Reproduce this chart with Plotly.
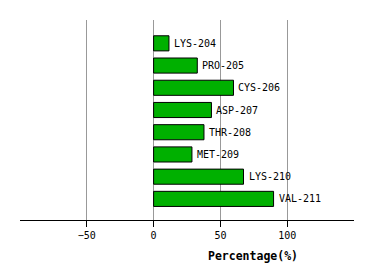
import plotly.graph_objects as go

residues = ["LYS-204", "PRO-205", "CYS-206", "ASP-207", "THR-208", "MET-209", "LYS-210", "VAL-211"]
percentages = [11.5, 32.7, 59.8, 43.3, 37.7, 28.7, 67.3, 89.8]
tick_values = [-50, 0, 50, 100]
tick_labels = ["\u221250", "0", "50", "100"]

positions = list(range(len(residues)))
FONT = "DejaVu Sans Mono"

fig = go.Figure()
fig.add_trace(go.Bar(
    x=percentages,
    y=positions,
    orientation="h",
    width=0.68,
    marker=dict(color="#00b000", line=dict(color="black", width=1)),
    hoverinfo="skip",
))

for p, v, name in zip(positions, percentages, residues):
    fig.add_annotation(
        x=v, y=p, text=name, showarrow=False,
        xanchor="left", yanchor="middle", xshift=3,
        font=dict(family=FONT, size=10, color="black"),
    )

fig.add_annotation(
    x=0.698, y=-0.135, xref="paper", yref="paper",
    text="<b>Percentage(%)</b>", showarrow=False,
    xanchor="center", yanchor="top",
    font=dict(family=FONT, size=11.5, color="black"),
)

fig.update_layout(
    width=374, height=280,
    margin=dict(l=20, r=20, t=20, b=60),
    paper_bgcolor="white", plot_bgcolor="white",
    showlegend=False,
    xaxis=dict(
        range=[-100, 150],
        tickvals=tick_values, ticktext=tick_labels,
        showgrid=True, gridcolor="#999999", gridwidth=1,
        zeroline=False,
        showline=True, linecolor="black", linewidth=1,
        ticks="outside", ticklen=6, tickcolor="black", tickwidth=1,
        tickfont=dict(family=FONT, size=10, color="black"),
    ),
    yaxis=dict(
        range=[7.95, -1.05],
        showgrid=False, zeroline=False, showticklabels=False,
        showline=False, ticks="",
    ),
)

fig.write_html("out.html")
